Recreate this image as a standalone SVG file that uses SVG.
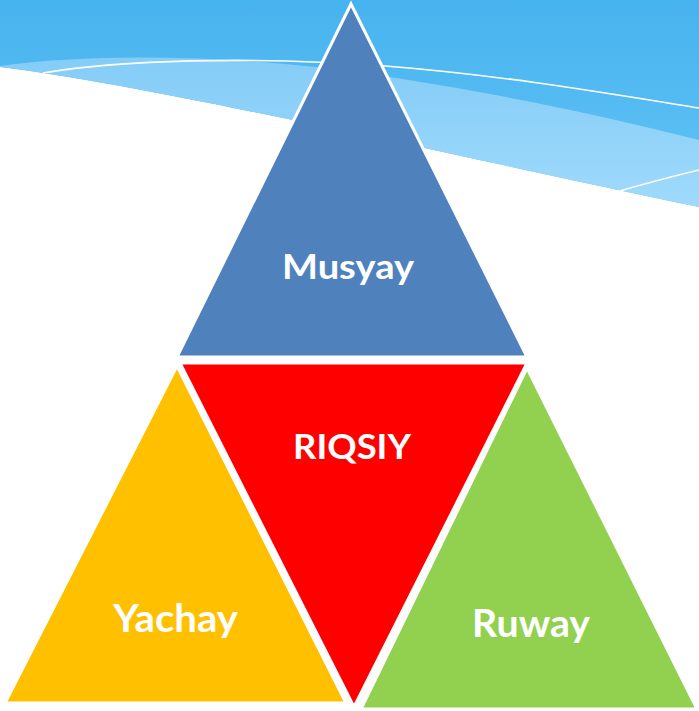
<svg xmlns="http://www.w3.org/2000/svg" width="699" height="711" viewBox="0 0 699 711">
  <defs>
    <linearGradient id="skyDark" x1="0" y1="0" x2="0" y2="1">
      <stop offset="0" stop-color="#47b3ee"/>
      <stop offset="1" stop-color="#62c3f6"/>
    </linearGradient>
    <linearGradient id="skyLight" x1="0" y1="0" x2="0" y2="1">
      <stop offset="0" stop-color="#84ccf7"/>
      <stop offset="1" stop-color="#9fdafb"/>
    </linearGradient>
    <style>
      .tri { stroke: #ffffff; stroke-width: 3; stroke-linejoin: miter; }
      .lbl { font-family: Lato, "Open Sans", "Liberation Sans", sans-serif; font-weight: 700; fill: #ffffff; text-anchor: middle; }
      .wave { fill: none; stroke: #ffffff; stroke-width: 1.6; }
    </style>
  </defs>

  <rect x="0" y="0" width="699" height="711" fill="#ffffff"/>

  <g id="background">
    <path d="M0,0 H699 V207 C450,155 150,85 0,67 Z" fill="url(#skyDark)"/>
    <path d="M0,66 C100,52 250,55 390,77 C500,94 600,115 699,140 V207 C450,155 150,85 0,67 Z" fill="url(#skyLight)"/>
    <path class="wave" d="M43,73 C120,60 250,56 385,66 C500,75 600,92 699,108"/>
    <path class="wave" d="M613,193 C640,185 670,177 699,170"/>
  </g>

  <g id="connectors"/>

  <g id="musyay">
    <polygon class="tri" points="351,4 527,357 177,357" fill="#4f81bd"/>
    <text class="lbl" x="348" y="279" font-size="35" textLength="132" lengthAdjust="spacingAndGlyphs">Musyay</text>
  </g>

  <g id="riqsiy">
    <polygon class="tri" points="180,363 527,363 354,707" fill="#ff0000"/>
    <text class="lbl" x="352" y="459" font-size="34" textLength="118" lengthAdjust="spacingAndGlyphs">RIQSIY</text>
  </g>

  <g id="yachay">
    <polygon class="tri" points="177,366 346,703 5,703" fill="#ffc000"/>
    <text class="lbl" x="175.5" y="632" font-size="39" textLength="125" lengthAdjust="spacingAndGlyphs">Yachay</text>
  </g>

  <g id="ruway">
    <polygon class="tri" points="527,368 697,709 361,709" fill="#92d050"/>
    <text class="lbl" x="531" y="637" font-size="39" textLength="118" lengthAdjust="spacingAndGlyphs">Ruway</text>
  </g>
</svg>
